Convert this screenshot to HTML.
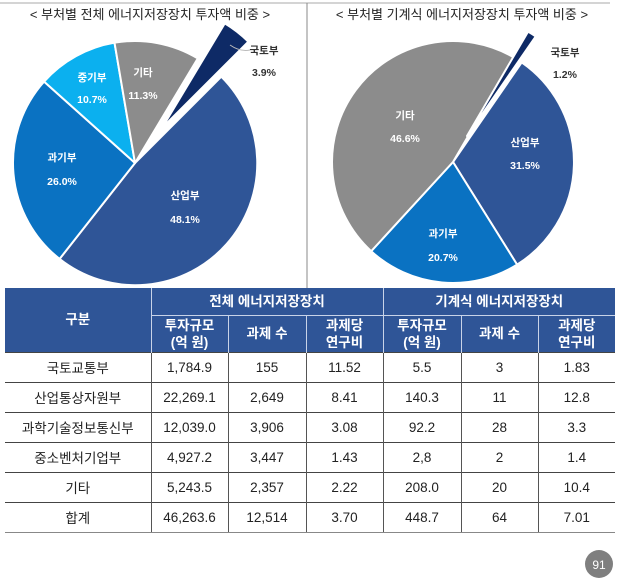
<!DOCTYPE html>
<html><head><meta charset="utf-8"><style>
body{margin:0;width:621px;height:581px;background:#fff;position:relative;overflow:hidden;font-family:"Liberation Sans","Noto Sans CJK KR",sans-serif}
svg{position:absolute;left:0;top:0}
table{position:absolute;left:5px;top:288px;border-collapse:collapse;table-layout:fixed;width:610px;font-family:"Liberation Sans","Noto Sans CJK KR",sans-serif}
td,th{text-align:center;padding:0;font-size:13.5px;color:#222}
th{background:#2f5597;color:#fff;font-weight:bold;font-size:13.5px;border-left:1px solid #c8d3e8;line-height:17px}
th.f{border-left:none}
td{height:29px;border-top:1.5px solid #444;border-left:1px solid #555}
td.f{border-left:none}
tr.last td{border-bottom:1.5px solid #888}
</style></head><body>
<svg width="621" height="581" viewBox="0 0 621 581">
<line x1="0" y1="3" x2="610" y2="3" stroke="#aaa" stroke-width="1"/>
<line x1="307" y1="3" x2="307" y2="288" stroke="#888" stroke-width="1"/>
<text x="150" y="19" font-size="13" text-anchor="middle" fill="#222" font-family="Liberation Sans,Noto Sans CJK KR,sans-serif">&lt; 부처별 전체 에너지저장장치 투자액 비중 &gt;</text>
<text x="462" y="19" font-size="13" text-anchor="middle" fill="#222" font-family="Liberation Sans,Noto Sans CJK KR,sans-serif">&lt; 부처별 기계식 에너지저장장치 투자액 비중 &gt;</text>
<g stroke="#fff" stroke-width="2" stroke-linejoin="round">
<path d="M135 163 L221.3 76.7 A122 122 0 0 1 59.6 258.9 Z" fill="#2f5597"/>
<path d="M135 163 L59.6 258.9 A122 122 0 0 1 44.1 81.6 Z" fill="#0a72c2"/>
<path d="M135 163 L44.1 81.6 A122 122 0 0 1 114.5 42.7 Z" fill="#0bb0ef"/>
<path d="M135 163 L114.5 42.7 A122 122 0 0 1 197.8 58.4 Z" fill="#8c8c8c"/>
<path transform="translate(27,-35)" d="M135 163 L197.8 58.4 A122 122 0 0 1 221.3 76.7 Z" fill="#0e2a66"/>
<path d="M453 162 L521.7 62.4 A121 121 0 0 1 517.1 264.6 Z" fill="#2f5597"/>
<path d="M453 162 L517.1 264.6 A121 121 0 0 1 371.2 251.2 Z" fill="#0a72c2"/>
<path d="M453 162 L371.2 251.2 A121 121 0 0 1 514.1 57.6 Z" fill="#8c8c8c"/>
<path transform="translate(14,-26)" d="M453 162 L514.1 57.6 A121 121 0 0 1 521.7 62.4 Z" fill="#0e2a66"/>
</g>
<path d="M230 45 Q240 52 250 50" stroke="#bbb" fill="none"/>
<g font-size="10.5" font-weight="bold" text-anchor="middle" fill="#fff" font-family="Liberation Sans,Noto Sans CJK KR,sans-serif">
<text x="92" y="81">중기부</text><text x="92" y="103">10.7%</text>
<text x="143" y="76">기타</text><text x="143" y="99">11.3%</text>
<text x="62" y="161">과기부</text><text x="62" y="185">26.0%</text>
<text x="185" y="199">산업부</text><text x="185" y="223">48.1%</text>
<text x="405" y="119">기타</text><text x="405" y="142">46.6%</text>
<text x="525" y="146">산업부</text><text x="525" y="169">31.5%</text>
<text x="443" y="237">과기부</text><text x="443" y="261">20.7%</text>
</g>
<g font-size="10.5" font-weight="bold" text-anchor="middle" fill="#333" font-family="Liberation Sans,Noto Sans CJK KR,sans-serif">
<text x="264" y="54">국토부</text><text x="264" y="76">3.9%</text>
<text x="565" y="56">국토부</text><text x="565" y="78">1.2%</text>
</g>
<circle cx="599" cy="564" r="14" fill="#7f7f7f"/>
<text x="599" y="569" font-size="12" text-anchor="middle" fill="#fff" font-family="Liberation Sans,sans-serif">91</text>
</svg>
<table>
<colgroup><col style="width:146px"><col style="width:77px"><col style="width:78px"><col style="width:77px"><col style="width:78px"><col style="width:77px"><col style="width:77px"></colgroup>
<tr style="height:27px"><th class="f" rowspan="2">구분</th><th colspan="3">전체 에너지저장장치</th><th colspan="3">기계식 에너지저장장치</th></tr>
<tr style="height:37px"><th style="border-top:1px solid #c8d3e8">투자규모<br>(억 원)</th><th style="border-top:1px solid #c8d3e8">과제 수</th><th style="border-top:1px solid #c8d3e8">과제당<br>연구비</th><th style="border-top:1px solid #c8d3e8">투자규모<br>(억 원)</th><th style="border-top:1px solid #c8d3e8">과제 수</th><th style="border-top:1px solid #c8d3e8">과제당<br>연구비</th></tr>
<tr><td class="f">국토교통부</td><td>1,784.9</td><td>155</td><td>11.52</td><td>5.5</td><td>3</td><td>1.83</td></tr>
<tr><td class="f">산업통상자원부</td><td>22,269.1</td><td>2,649</td><td>8.41</td><td>140.3</td><td>11</td><td>12.8</td></tr>
<tr><td class="f">과학기술정보통신부</td><td>12,039.0</td><td>3,906</td><td>3.08</td><td>92.2</td><td>28</td><td>3.3</td></tr>
<tr><td class="f">중소벤처기업부</td><td>4,927.2</td><td>3,447</td><td>1.43</td><td>2,8</td><td>2</td><td>1.4</td></tr>
<tr><td class="f">기타</td><td>5,243.5</td><td>2,357</td><td>2.22</td><td>208.0</td><td>20</td><td>10.4</td></tr>
<tr class="last"><td class="f">합계</td><td>46,263.6</td><td>12,514</td><td>3.70</td><td>448.7</td><td>64</td><td>7.01</td></tr>
</table>
</body></html>
